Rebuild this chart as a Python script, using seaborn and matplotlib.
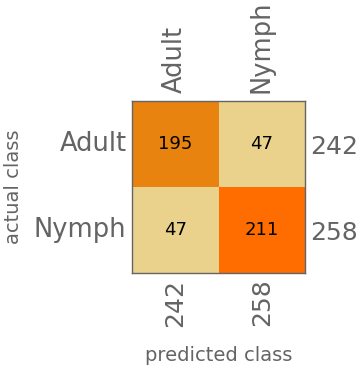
import matplotlib
matplotlib.use("Agg")
import matplotlib.pyplot as plt
import seaborn as sns
import numpy as np
import pandas as pd
from matplotlib.colors import LinearSegmentedColormap

classes = ["Adult", "Nymph"]
row_adult = [195, 47]
row_nymph = [47, 211]
actual_totals = ["242", "258"]
predicted_totals = ["242", "258"]

sns.set_theme(style="white")
plt.rcParams['font.family'] = ['DejaVu Sans']

df = pd.DataFrame([row_adult, row_nymph], index=classes, columns=classes)

vmin, vmax = 47, 211
cmap = LinearSegmentedColormap.from_list(
    "cm", [(0.0, "#EBD28C"), ((195 - vmin) / (vmax - vmin), "#E88410"), (1.0, "#FF6C00")])

gray = "#646464"
fig = plt.figure(figsize=(3.62, 3.66), dpi=100)
ax = fig.add_axes([132 / 362, 1 - 273 / 366, 173 / 362, 172 / 366])
sns.heatmap(df, ax=ax, cmap=cmap, vmin=vmin, vmax=vmax, annot=True, fmt="d",
            cbar=False, annot_kws={"size": 13, "color": "black"})

for s in ax.spines.values():
    s.set_visible(True)
    s.set_color(gray)
    s.set_linewidth(1.0)

ax.xaxis.tick_top()
ax.set_xticks([0.5, 1.5])
ax.set_xticklabels(classes, rotation=90, fontsize=18.5, color=gray)
ax.set_yticks([0.5, 1.5])
ax.set_yticklabels(classes, rotation=0, fontsize=18.5, color=gray)
ax.tick_params(axis="both", which="both", direction="in", length=3, width=0.8,
               color=gray, top=True, left=True, bottom=False, right=False)
ax.tick_params(axis="x", pad=6)
ax.tick_params(axis="y", pad=4)
ax.set_xlabel("")
ax.set_ylabel("")

secx = ax.secondary_xaxis("bottom")
secx.set_xticks([0.5, 1.5])
secx.set_xticklabels(predicted_totals, rotation=90, fontsize=18, color=gray)
secx.tick_params(direction="in", length=3, width=0.8, color=gray, pad=4)
secx.spines["bottom"].set_visible(False)
secx.set_xlabel("predicted class", fontsize=14, color=gray, labelpad=14)

secy = ax.secondary_yaxis("right")
secy.set_yticks([0.5, 1.5])
secy.set_yticklabels(actual_totals, fontsize=18, color=gray)
secy.tick_params(direction="in", length=3, width=0.8, color=gray, pad=4)
secy.spines["right"].set_visible(False)

fig.text(14 / 362, 1 - 187 / 366, "actual class", rotation=90, fontsize=14,
         color=gray, ha="center", va="center")

fig.savefig("out.png", dpi=100)
